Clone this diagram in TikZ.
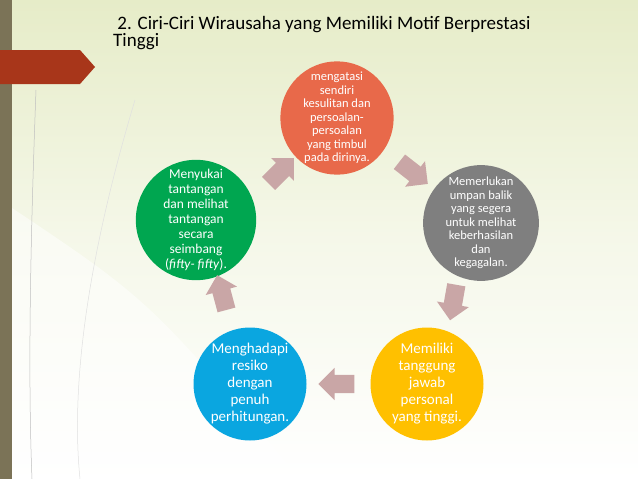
\documentclass[tikz,border=0pt]{standalone}
\usepackage{fontspec}
\setmainfont{Carlito}
\usetikzlibrary{shapes.arrows}
\definecolor{bgA}{HTML}{E6ECC8}
\definecolor{bar}{HTML}{7B7357}
\definecolor{redarr}{HTML}{A8361A}
\definecolor{cOr}{HTML}{E8694A}
\definecolor{cGr}{HTML}{7F7F7F}
\definecolor{cYe}{HTML}{FFC000}
\definecolor{cBl}{HTML}{0AA6E0}
\definecolor{cGn}{HTML}{00A650}
\definecolor{cArr}{HTML}{C9A6A6}
\tikzset{
 circ/.style={circle,minimum size=113pt,inner sep=0pt,text=white,align=center},
 small/.style={font=\fontsize{12.5}{13.5}\selectfont},
 big/.style={font=\fontsize{15}{17}\selectfont},
 blk/.style={single arrow,fill=cArr,minimum height=36pt,inner xsep=0pt,inner ysep=9pt,single arrow head extend=7pt,single arrow tip angle=90}
}
\begin{document}
\begin{tikzpicture}[x=1pt,y=-1pt]
\useasboundingbox (0,0) rectangle (638,479);
\shade[top color=bgA,bottom color=white,middle color=white!60!bgA] (0,0) rectangle (638,479);
\fill[white,opacity=0.5] (0,479) -- (0,200) .. controls (150,300) .. (300,479) -- cycle;
\draw[black!25,line width=0.5pt] (36,90) .. controls (30,250) and (28,380) .. (32,479);
\draw[black!12,line width=0.5pt] (135,100) .. controls (90,250) and (70,380) .. (80,479);
\fill[bar] (0,0) rectangle (12,479);
\fill[redarr] (0,50) -- (80,50) -- (95,67) -- (80,84) -- (0,84) -- cycle;
\node[anchor=base west,inner sep=0pt,font=\fontsize{19}{17}\selectfont,align=left] (title) at (113,46) {\ 2. Ciri-Ciri Wirausaha yang Memiliki Motif Berprestasi\\Tinggi};
\node[circ,fill=cOr,small] (o) at (337,118) {mengatasi\\sendiri\\kesulitan dan\\persoalan-\\persoalan\\yang timbul\\pada dirinya.};
\node[circ,fill=cGr,small] (g) at (481,223) {Memerlukan\\umpan balik\\yang segera\\untuk melihat\\keberhasilan\\dan\\kegagalan.};
\node[circ,fill=cYe,big] (y) at (427,384) {Memiliki\\tanggung\\jawab\\personal\\yang tinggi.};
\node[circ,fill=cBl,big] (b) at (250,384) {Menghadapi\\resiko\\dengan\\penuh\\perhitungan.};
\node[circ,fill=cGn,font=\fontsize{13.5}{15}\selectfont] (n) at (196,220) {Menyukai\\tantangan\\dan melihat\\tantangan\\secara\\seimbang\\(\textit{fifty- fifty}).};
\node[blk,rotate=45] (a1) at (278,174) {};
\node[blk,rotate=-38] (a2) at (410,170) {};
\node[blk,rotate=-100] (a3) at (454,298) {};
\node[blk,rotate=180] (a4) at (341,384) {};
\node[blk,rotate=105] (a5) at (223,297) {};
\end{tikzpicture}
\end{document}
